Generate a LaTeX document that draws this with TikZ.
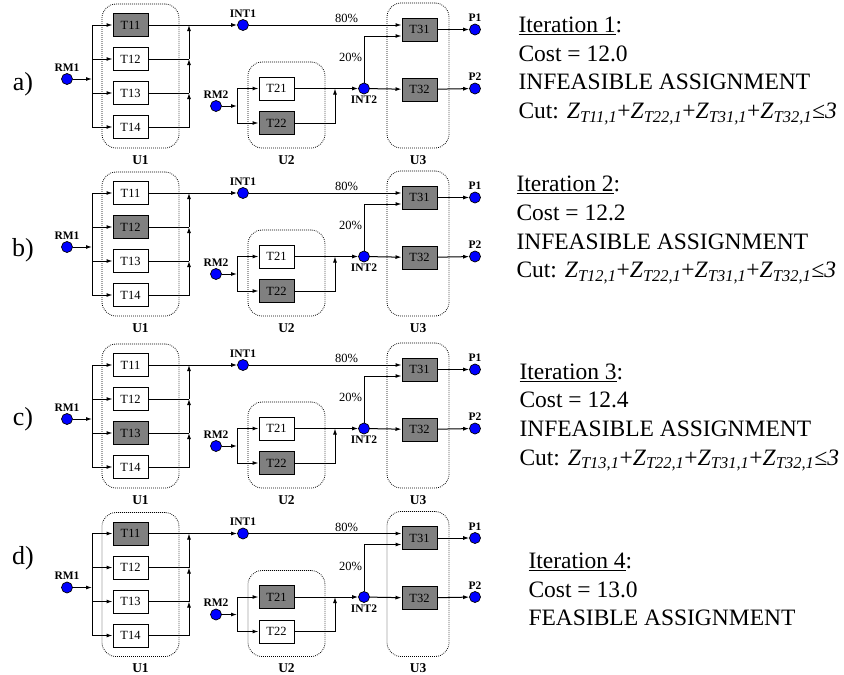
\documentclass[tikz,border=0pt]{standalone}
\usepackage{fontspec}
\setmainfont{Liberation Serif}
\usepackage{tikz}
\usetikzlibrary{positioning,arrows.meta}
\definecolor{selgray}{RGB}{128,128,128}
\definecolor{dotblue}{RGB}{0,0,255}
\newcommand{\zsub}[1]{\textit{Z}\textsubscript{\textit{#1,1}}}

\begin{document}
\begin{tikzpicture}[
    x=1pt, y=-1pt, line width=1pt,
    box/.style={draw, fill=white, minimum width=35pt, minimum height=23pt,
                inner sep=0pt, font=\fontsize{12.5}{14}\selectfont},
    ball/.style={circle, draw, fill=dotblue, minimum size=11pt, inner sep=0pt,
                 line width=0.7pt, label distance=3pt},
    lbl/.style={font=\fontsize{11.5}{13}\selectfont\bfseries, inner sep=1.5pt},
    unit/.style={draw, line width=0.8pt, dash pattern=on 0.8pt off 1.2pt,
                 rounded corners=14pt, inner sep=0pt},
    ulbl/.style={font=\fontsize{13.5}{15}\selectfont\bfseries, inner sep=1.5pt},
    pct/.style={font=\fontsize{12.5}{14}\selectfont, inner sep=1.5pt},
    arr/.style={-{Latex[length=6pt,width=4pt]}},
    info/.style={align=left, anchor=north west, inner sep=0pt,
                 font=\fontsize{23.5}{28.7}\selectfont},
    node distance=11pt
  ]
  \useasboundingbox (0,0) rectangle (844,675);

  % one row per iteration: name/offset/label height/chosen T1x/chosen T2x
  \foreach \p/\oy/\ly/\ta/\tb in {a/0/84/1/2, b/168/82/2/2, c/340/79/3/2, d/508.5/50/1/1}{
  \begin{scope}[shift={(0,\oy)}]
    \node[font=\fontsize{26}{28}\selectfont] (\p lab) at (23,\ly) {\p)};

    % dotted unit frames
    \node[unit, minimum width=77pt, minimum height=144pt] (\p U1) at (140.5,76) {};
    \node[unit, minimum width=77pt, minimum height=86pt] (\p U2) at (286.5,105) {};
    \node[unit, minimum width=62pt, minimum height=145pt] (\p U3) at (418,75.5) {};
    \node[ulbl, below=5pt of \p U1] {U1};
    \node[ulbl, below=5pt of \p U2] {U2};
    \node[ulbl, below=5pt of \p U3] {U3};

    % unit 1
    \foreach \k in {1,...,4}{
      \ifnum\k=\ta \def\fc{selgray}\else \def\fc{white}\fi
      \node[box, fill=\fc] (\p T1\k) at (130.5,{25+34*(\k-1)}) {T1\k};
    }
    \node[ball, label={[lbl]above:RM1}] (\p RM1) at (67,79) {};
    \coordinate (\p L1) at (92,79);
    \coordinate (\p R1) at (189,25);
    \draw[arr] (\p RM1) -- (\p L1);
    \draw (\p L1 |- \p T11) -- (\p L1 |- \p T14);
    \foreach \k in {1,...,4}
      \draw[arr] (\p L1 |- \p T1\k) -- (\p T1\k);
    \draw[arr] (\p T14) -| (\p R1 |- \p T13);
    \draw (\p T13) -- (\p R1 |- \p T13);
    \draw[arr] (\p R1 |- \p T13) -- (\p R1 |- \p T12);
    \draw (\p T12) -- (\p R1 |- \p T12);
    \draw[arr] (\p R1 |- \p T12) -- (\p R1);

    % unit 2
    \ifnum\tb=1 \def\fa{selgray}\def\fb{white}\else \def\fa{white}\def\fb{selgray}\fi
    \node[box, fill=\fa] (\p T21) at (276.5,88.5) {T21};
    \node[box, fill=\fb, below=10.5pt of \p T21] (\p T22) {T22};
    \node[ball, label={[lbl]above:RM2}] (\p RM2) at (216,106) {};
    \coordinate (\p L2) at (237,106);
    \coordinate (\p R2) at (335,88.5);
    \draw[arr] (\p RM2) -- (\p L2);
    \draw (\p L2 |- \p T21) -- (\p L2 |- \p T22);
    \draw[arr] (\p L2 |- \p T21) -- (\p T21);
    \draw[arr] (\p L2 |- \p T22) -- (\p T22);
    \draw[arr] (\p T22) -| (\p R2);

    % intermediates and unit 3
    \node[ball, label={[lbl]above:INT1}] (\p INT1) at (243,25) {};
    \node[ball, label={[lbl]below:INT2}] (\p INT2) at (364,88.5) {};
    \node[box, fill=selgray] (\p T31) at (419.5,29.5) {T31};
    \node[box, fill=selgray, below=36pt of \p T31] (\p T32) {T32};
    \node[ball, label={[lbl]above:P1}] (\p P1) at (475,29.5) {};
    \node[ball, label={[lbl]above:P2}] (\p P2) at (475,88.5) {};
    \draw[arr] (\p R1) -- (\p INT1);
    \draw (\p T11) -- (\p R1);
    \draw[arr] (\p INT1) -- ([yshift=4.5pt]\p T31.west) node[pct, pos=0.64, above] {80\%};
    \draw[arr] (\p T21) -- (\p INT2);
    \draw[arr] (\p INT2) |- ([yshift=-6.5pt]\p T31.west) node[pct, pos=0.27, left] {20\%};
    \draw[arr] (\p INT2) -- (\p T32);
    \draw[arr] (\p T31) -- (\p P1);
    \draw[arr] (\p T32) -- (\p P2);
  \end{scope}}

  % iteration results
  \node[info] (it1) at (518,16.4) {\underline{Iteration 1}:\\Cost = 12.0\\INFEASIBLE ASSIGNMENT\\
    Cut: \zsub{T11}+\zsub{T22}+\zsub{T31}+\zsub{T32}\textit{≤3}};
  \node[info] (it2) at (516,175.8) {\underline{Iteration 2}:\\Cost = 12.2\\INFEASIBLE ASSIGNMENT\\
    Cut: \zsub{T12}+\zsub{T22}+\zsub{T31}+\zsub{T32}\textit{≤3}};
  \node[info] (it3) at (519,363.1) {\underline{Iteration 3}:\\Cost = 12.4\\INFEASIBLE ASSIGNMENT\\
    Cut: \zsub{T13}+\zsub{T22}+\zsub{T31}+\zsub{T32}\textit{≤3}};
  \node[info] (it4) at (528,552.4) {\underline{Iteration 4}:\\Cost = 13.0\\FEASIBLE ASSIGNMENT};
\end{tikzpicture}
\end{document}
